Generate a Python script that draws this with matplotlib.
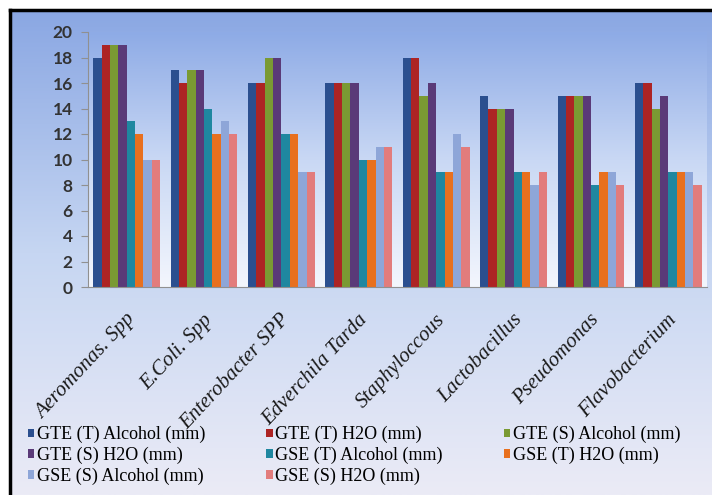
import numpy as np
import matplotlib.pyplot as plt
from matplotlib.colors import LinearSegmentedColormap
from matplotlib.lines import Line2D
from matplotlib.patches import Patch

bacteria = ['Aeromonas. Spp', 'E.Coli. Spp', 'Enterobacter SPP', 'Edverchila Tarda',
            'Staphyloccous', 'Lactobacillus', 'Pseudomonas', 'Flavobacterium']

series = ['GTE (T) Alcohol (mm)', 'GTE (T) H2O (mm)', 'GTE (S) Alcohol (mm)',
          'GTE (S) H2O (mm)', 'GSE (T) Alcohol (mm)', 'GSE (T) H2O (mm)',
          'GSE (S) Alcohol (mm)', 'GSE (S) H2O (mm)']

gte_t_alcohol = [18, 17, 16, 16, 18, 15, 15, 16]
gte_t_h2o = [19, 16, 16, 16, 18, 14, 15, 16]
gte_s_alcohol = [19, 17, 18, 16, 15, 14, 15, 14]
gte_s_h2o = [19, 17, 18, 16, 16, 14, 15, 15]
gse_t_alcohol = [13, 14, 12, 10, 9, 9, 8, 9]
gse_t_h2o = [12, 12, 12, 10, 9, 9, 9, 9]
gse_s_alcohol = [10, 13, 9, 11, 12, 8, 9, 9]
gse_s_h2o = [10, 12, 9, 11, 11, 9, 8, 8]

values = [gte_t_alcohol, gte_t_h2o, gte_s_alcohol, gte_s_h2o,
          gse_t_alcohol, gse_t_h2o, gse_s_alcohol, gse_s_h2o]

colors = ['#2b4f8f', '#ad2424', '#7a9a33', '#5a3a78',
          '#1f87a0', '#e8701e', '#8ea6d8', '#e27c7c']

W, H = 712, 495
fig = plt.figure(figsize=(W / 100, H / 100), dpi=100, facecolor='white')

# outer panel with vertical gradient and black frame on top/left
bg = fig.add_axes([10 / W, 0, 1 - 10 / W, 1 - 10 / H])
bg_cmap = LinearSegmentedColormap.from_list('bg', ['#ebebf6', '#c6d6f2', '#8aa7e3'])
bg.imshow(np.linspace(0, 1, 256).reshape(-1, 1), aspect='auto', cmap=bg_cmap,
          origin='lower', extent=[0, 1, 0, 1])
bg.set_axis_off()
fig.add_artist(Line2D([9.5 / W, 1], [1 - 9.5 / H, 1 - 9.5 / H], color='black', lw=2.5,
                      transform=fig.transFigure))
fig.add_artist(Line2D([9.5 / W, 9.5 / W], [0, 1 - 9.5 / H], color='black', lw=2.5,
                      transform=fig.transFigure))

ax = fig.add_axes([88 / W, 1 - 287 / H, (707 - 88) / W, (287 - 32) / H])
ax.patch.set_visible(False)
plot_cmap = LinearSegmentedColormap.from_list('plot', ['#f3f6fd', '#c9d8f4', '#8eabe6'])
ax.imshow(np.linspace(0, 1, 256).reshape(-1, 1), aspect='auto', cmap=plot_cmap,
          origin='lower', extent=[-0.5, 7.5, 0, 20], zorder=0)

x = np.arange(len(bacteria))
bw = 0.108
for i, (vals, c) in enumerate(zip(values, colors)):
    ax.bar(x + (i - 3.5) * bw, vals, bw, color=c, label=series[i], zorder=2)

ax.set_xlim(-0.5, 7.5)
ax.set_ylim(0, 20)
ax.set_yticks(range(0, 21, 2))
ax.tick_params(axis='y', length=5, color='#909090', pad=6, labelsize=12.5,
               labelcolor='#333333')
for t in ax.get_yticklabels():
    t.set_fontfamily('Lato')
    t.set_fontweight('bold')
ax.set_xticks([])
for s in ['top', 'right']:
    ax.spines[s].set_visible(False)
for s in ['left', 'bottom']:
    ax.spines[s].set_color('#909090')
    ax.spines[s].set_linewidth(0.8)

# category names, slanted below the axis
for xi, name in zip(x, bacteria):
    ax.annotate(name, xy=(xi, 0), xytext=(-1, -17), textcoords='offset points',
                rotation=47, rotation_mode='anchor', ha='right', va='top',
                family='Liberation Serif', style='italic', fontsize=15,
                color='#1a1a1a', annotation_clip=False, zorder=3)

order = [0, 3, 6, 1, 4, 7, 2, 5]
handles = [Patch(facecolor=colors[i]) for i in order]
labels = [series[i] for i in order]
fig.legend(handles, labels, ncol=3, loc='upper left', bbox_to_anchor=(19 / W, 1 - 417 / H),
           frameon=False, prop={'family': 'Liberation Serif', 'size': 13},
           handlelength=0.35, handleheight=0.35, handletextpad=0.15,
           columnspacing=3.37, labelspacing=0.2, borderpad=0)

fig.savefig('out.png', dpi=100)
